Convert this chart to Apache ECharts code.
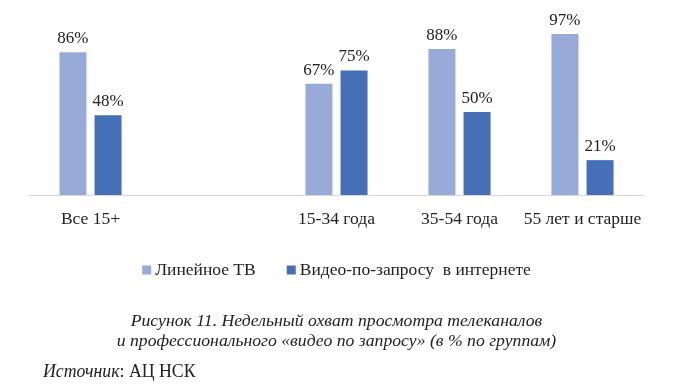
<!DOCTYPE html>
<html><head><meta charset="utf-8">
<script src="https://cdn.jsdelivr.net/npm/echarts@6/dist/echarts.min.js"></script>
<style>html,body{margin:0;padding:0;background:#fff}#c{width:673px;height:386px}</style>
</head><body><div id="c"></div>
<script>
const categories = ['Все 15+', '', '15-34 года', '35-54 года', '55 лет и старше'];
const seriesNames = ['Линейное ТВ', 'Видео-по-запросу  в интернете'];
const linearTV = [86, null, 67, 88, 97];
const vod = [48, null, 75, 50, 21];
const captionLines = ['Рисунок 11. Недельный охват просмотра телеканалов', 'и профессионального «видео по запросу» (в % по группам)'];

const serif = '"Liberation Serif", "Times New Roman", serif';
const chart = echarts.init(document.getElementById('c'));
const lbl = {show: true, position: 'top', distance: 5, fontFamily: serif, fontSize: 17, color: '#222', formatter: p => p.value + '%'};
chart.setOption({
  animation: false,
  grid: {left: 29, right: 29, top: 29, bottom: 191, containLabel: false},
  xAxis: {
    type: 'category', data: categories,
    axisLine: {lineStyle: {color: '#d9d9d9'}},
    axisTick: {show: false},
    axisLabel: {interval: 0, fontFamily: serif, fontSize: 17.5, color: '#222', margin: 15}
  },
  yAxis: {type: 'value', min: 0, max: 100, show: false, splitLine: {show: false}},
  legend: {
    bottom: 102, left: 'center', icon: 'rect', itemWidth: 9, itemHeight: 9, itemGap: 31,
    textStyle: {fontFamily: serif, fontSize: 17.5, color: '#222', padding: [0, 0, 0, -1]}
  },
  series: [
    {name: seriesNames[0], type: 'bar', data: linearTV, barWidth: 27, barGap: '30%', itemStyle: {color: '#97aad8'}, label: lbl},
    {name: seriesNames[1], type: 'bar', data: vod, barWidth: 27, itemStyle: {color: '#4570b7'}, label: lbl}
  ],
  graphic: [
    {type: 'text', left: 'center', top: 312, style: {text: captionLines[0], font: 'italic 17.7px ' + serif, fill: '#222'}},
    {type: 'text', left: 'center', top: 332, style: {text: captionLines[1], font: 'italic 17.7px ' + serif, fill: '#222'}},
    {type: 'text', left: 43, top: 363, style: {
      text: '{i|Источник}{n|: АЦ НСК}',
      rich: {i: {font: 'italic 17.8px ' + serif, fill: '#222'}, n: {font: '17.8px ' + serif, fill: '#222'}}
    }}
  ]
});
</script></body></html>
